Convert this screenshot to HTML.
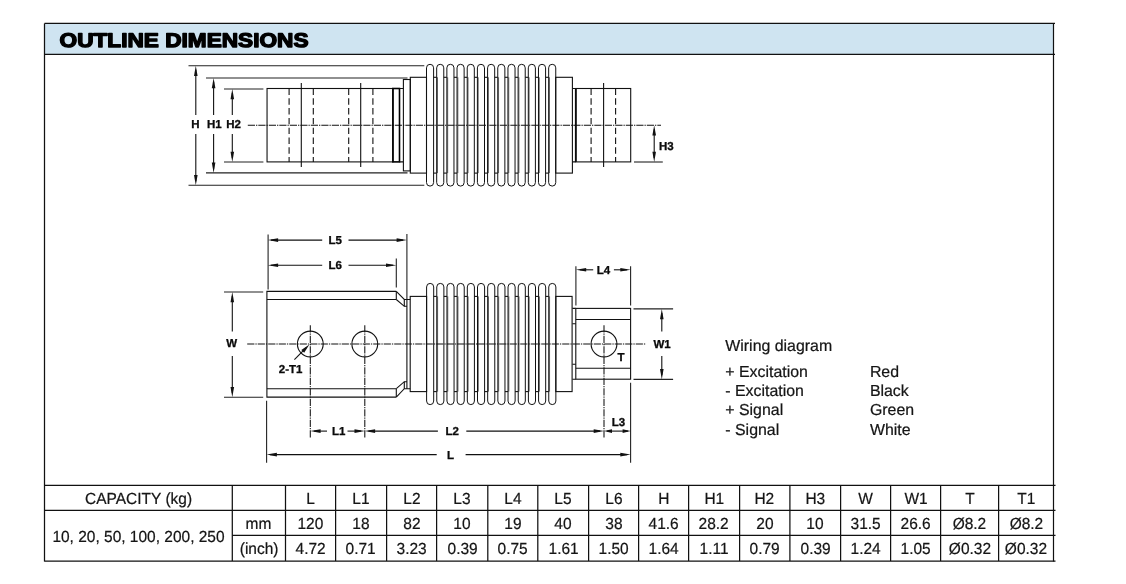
<!DOCTYPE html>
<html><head><meta charset="utf-8"><title>Outline Dimensions</title>
<style>
html,body{margin:0;padding:0;background:#fff}
body{text-rendering:geometricPrecision;width:1126px;height:584px;position:relative;overflow:hidden;font-family:"Liberation Sans",sans-serif;color:#111}
#page{position:absolute;left:0;top:0;width:1126px;height:584px;will-change:transform}
#hdr{position:absolute;left:44.5px;top:23.4px;width:1009.3px;height:30.9px;background:#cfe4f1}
.l{position:absolute;background:#161616}
.c{position:absolute;-webkit-text-stroke:0.22px #151515;text-align:center;font-size:16.1px;white-space:nowrap;color:#151515}
.c span{display:inline-block;transform:scaleX(0.962)}
svg{position:absolute;left:0;top:0}
svg text{font-family:"Liberation Sans",sans-serif}
.w{position:absolute;-webkit-text-stroke:0.22px #151515;font-size:15.9px;white-space:nowrap;color:#151515;line-height:18px}
</style></head><body><div id="page">
<div id="hdr"></div>
<svg width="1126" height="584" viewBox="0 0 1126 584">
<text x="59.6" y="46.9" font-size="19.9" font-weight="bold" fill="#000" stroke="#000" stroke-width="1.35" stroke-linejoin="round" textLength="248.9" lengthAdjust="spacingAndGlyphs">OUTLINE DIMENSIONS</text>
<line x1="188.50" y1="65.70" x2="424.30" y2="65.70" stroke="#222" stroke-width="1.1"/>
<line x1="188.50" y1="185.20" x2="424.30" y2="185.20" stroke="#222" stroke-width="1.1"/>
<line x1="206.00" y1="78.00" x2="407.50" y2="78.00" stroke="#222" stroke-width="1.1"/>
<line x1="206.00" y1="172.90" x2="407.50" y2="172.90" stroke="#222" stroke-width="1.1"/>
<line x1="224.00" y1="89.00" x2="263.40" y2="89.00" stroke="#222" stroke-width="1.1"/>
<line x1="224.00" y1="162.00" x2="263.40" y2="162.00" stroke="#222" stroke-width="1.1"/>
<line x1="195.80" y1="69.70" x2="195.80" y2="115.00" stroke="#111" stroke-width="1.1"/>
<line x1="195.80" y1="134.00" x2="195.80" y2="181.20" stroke="#111" stroke-width="1.1"/>
<polygon points="195.80,65.70 197.60,76.00 194.00,76.00" fill="#111"/>
<polygon points="195.80,185.20 194.00,174.90 197.60,174.90" fill="#111"/>
<text x="195.40" y="127.80" font-size="11.5" font-weight="bold" text-anchor="middle" fill="#0a0a0a" stroke="#0a0a0a" stroke-width="0.3">H</text>
<line x1="213.60" y1="82.00" x2="213.60" y2="115.00" stroke="#111" stroke-width="1.1"/>
<line x1="213.60" y1="134.00" x2="213.60" y2="168.90" stroke="#111" stroke-width="1.1"/>
<polygon points="213.60,78.00 215.40,88.30 211.80,88.30" fill="#111"/>
<polygon points="213.60,172.90 211.80,162.60 215.40,162.60" fill="#111"/>
<text x="214.40" y="127.80" font-size="11.5" font-weight="bold" text-anchor="middle" fill="#0a0a0a" stroke="#0a0a0a" stroke-width="0.3">H1</text>
<line x1="232.30" y1="93.00" x2="232.30" y2="115.00" stroke="#111" stroke-width="1.1"/>
<line x1="232.30" y1="134.00" x2="232.30" y2="158.00" stroke="#111" stroke-width="1.1"/>
<polygon points="232.30,89.00 234.10,99.30 230.50,99.30" fill="#111"/>
<polygon points="232.30,162.00 230.50,151.70 234.10,151.70" fill="#111"/>
<text x="233.60" y="127.80" font-size="11.5" font-weight="bold" text-anchor="middle" fill="#0a0a0a" stroke="#0a0a0a" stroke-width="0.3">H2</text>
<line x1="247.80" y1="125.20" x2="661.00" y2="125.20" stroke="#111" stroke-width="1.05" stroke-dasharray="7.2 1 1.3 1"/>
<rect x="267.05" y="88.50" width="125.95" height="73.40" fill="none" stroke="#111" stroke-width="1.1"/>
<line x1="289.10" y1="88.50" x2="289.10" y2="161.90" stroke="#111" stroke-width="1.1" stroke-dasharray="6.4 3.4"/>
<line x1="313.30" y1="88.50" x2="313.30" y2="161.90" stroke="#111" stroke-width="1.1" stroke-dasharray="6.4 3.4"/>
<line x1="348.70" y1="88.50" x2="348.70" y2="161.90" stroke="#111" stroke-width="1.1" stroke-dasharray="6.4 3.4"/>
<line x1="372.90" y1="88.50" x2="372.90" y2="161.90" stroke="#111" stroke-width="1.1" stroke-dasharray="6.4 3.4"/>
<line x1="301.30" y1="83.00" x2="301.30" y2="167.00" stroke="#111" stroke-width="1.1"/>
<line x1="360.70" y1="83.00" x2="360.70" y2="167.00" stroke="#111" stroke-width="1.1"/>
<rect x="392.90" y="88.50" width="6.60" height="73.40" fill="none" stroke="#000" stroke-width="1.6"/>
<path d="M399.5,88.5 L403.4,88.5 M399.5,161.9 L403.4,161.9" fill="none" stroke="#111" stroke-width="1.1" stroke-linejoin="miter"/>
<rect x="403.40" y="79.50" width="6.90" height="91.40" fill="none" stroke="#111" stroke-width="1.1"/>
<rect x="410.30" y="77.30" width="16.20" height="95.80" fill="none" stroke="#111" stroke-width="1.1"/>
<path d="M426.50,67.85 A3.55,3.55 0 0 1 433.60,67.85 L433.60,182.55 A3.55,3.55 0 0 1 426.50,182.55 Z" fill="none" stroke="#111" stroke-width="1" stroke-linejoin="miter"/>
<line x1="433.60" y1="77.30" x2="436.68" y2="77.30" stroke="#111" stroke-width="1.1"/>
<line x1="433.60" y1="173.10" x2="436.68" y2="173.10" stroke="#111" stroke-width="1.1"/>
<line x1="437.48" y1="77.30" x2="437.48" y2="173.10" stroke="#444" stroke-width="0.8"/>
<path d="M436.68,67.85 A3.55,3.55 0 0 1 443.78,67.85 L443.78,182.55 A3.55,3.55 0 0 1 436.68,182.55 Z" fill="none" stroke="#111" stroke-width="1" stroke-linejoin="miter"/>
<line x1="443.78" y1="77.30" x2="446.86" y2="77.30" stroke="#111" stroke-width="1.1"/>
<line x1="443.78" y1="173.10" x2="446.86" y2="173.10" stroke="#111" stroke-width="1.1"/>
<line x1="447.66" y1="77.30" x2="447.66" y2="173.10" stroke="#444" stroke-width="0.8"/>
<path d="M446.86,67.85 A3.55,3.55 0 0 1 453.96,67.85 L453.96,182.55 A3.55,3.55 0 0 1 446.86,182.55 Z" fill="none" stroke="#111" stroke-width="1" stroke-linejoin="miter"/>
<line x1="453.96" y1="77.30" x2="457.04" y2="77.30" stroke="#111" stroke-width="1.1"/>
<line x1="453.96" y1="173.10" x2="457.04" y2="173.10" stroke="#111" stroke-width="1.1"/>
<line x1="457.84" y1="77.30" x2="457.84" y2="173.10" stroke="#444" stroke-width="0.8"/>
<path d="M457.04,67.85 A3.55,3.55 0 0 1 464.14,67.85 L464.14,182.55 A3.55,3.55 0 0 1 457.04,182.55 Z" fill="none" stroke="#111" stroke-width="1" stroke-linejoin="miter"/>
<line x1="464.14" y1="77.30" x2="467.22" y2="77.30" stroke="#111" stroke-width="1.1"/>
<line x1="464.14" y1="173.10" x2="467.22" y2="173.10" stroke="#111" stroke-width="1.1"/>
<line x1="468.02" y1="77.30" x2="468.02" y2="173.10" stroke="#444" stroke-width="0.8"/>
<path d="M467.22,67.85 A3.55,3.55 0 0 1 474.32,67.85 L474.32,182.55 A3.55,3.55 0 0 1 467.22,182.55 Z" fill="none" stroke="#111" stroke-width="1" stroke-linejoin="miter"/>
<line x1="474.32" y1="77.30" x2="477.40" y2="77.30" stroke="#111" stroke-width="1.1"/>
<line x1="474.32" y1="173.10" x2="477.40" y2="173.10" stroke="#111" stroke-width="1.1"/>
<line x1="478.20" y1="77.30" x2="478.20" y2="173.10" stroke="#444" stroke-width="0.8"/>
<path d="M477.40,67.85 A3.55,3.55 0 0 1 484.50,67.85 L484.50,182.55 A3.55,3.55 0 0 1 477.40,182.55 Z" fill="none" stroke="#111" stroke-width="1" stroke-linejoin="miter"/>
<line x1="484.50" y1="77.30" x2="487.58" y2="77.30" stroke="#111" stroke-width="1.1"/>
<line x1="484.50" y1="173.10" x2="487.58" y2="173.10" stroke="#111" stroke-width="1.1"/>
<line x1="488.38" y1="77.30" x2="488.38" y2="173.10" stroke="#444" stroke-width="0.8"/>
<path d="M487.58,67.85 A3.55,3.55 0 0 1 494.68,67.85 L494.68,182.55 A3.55,3.55 0 0 1 487.58,182.55 Z" fill="none" stroke="#111" stroke-width="1" stroke-linejoin="miter"/>
<line x1="494.68" y1="77.30" x2="497.76" y2="77.30" stroke="#111" stroke-width="1.1"/>
<line x1="494.68" y1="173.10" x2="497.76" y2="173.10" stroke="#111" stroke-width="1.1"/>
<line x1="498.56" y1="77.30" x2="498.56" y2="173.10" stroke="#444" stroke-width="0.8"/>
<path d="M497.76,67.85 A3.55,3.55 0 0 1 504.86,67.85 L504.86,182.55 A3.55,3.55 0 0 1 497.76,182.55 Z" fill="none" stroke="#111" stroke-width="1" stroke-linejoin="miter"/>
<line x1="504.86" y1="77.30" x2="507.94" y2="77.30" stroke="#111" stroke-width="1.1"/>
<line x1="504.86" y1="173.10" x2="507.94" y2="173.10" stroke="#111" stroke-width="1.1"/>
<line x1="508.74" y1="77.30" x2="508.74" y2="173.10" stroke="#444" stroke-width="0.8"/>
<path d="M507.94,67.85 A3.55,3.55 0 0 1 515.04,67.85 L515.04,182.55 A3.55,3.55 0 0 1 507.94,182.55 Z" fill="none" stroke="#111" stroke-width="1" stroke-linejoin="miter"/>
<line x1="515.04" y1="77.30" x2="518.12" y2="77.30" stroke="#111" stroke-width="1.1"/>
<line x1="515.04" y1="173.10" x2="518.12" y2="173.10" stroke="#111" stroke-width="1.1"/>
<line x1="518.92" y1="77.30" x2="518.92" y2="173.10" stroke="#444" stroke-width="0.8"/>
<path d="M518.12,67.85 A3.55,3.55 0 0 1 525.22,67.85 L525.22,182.55 A3.55,3.55 0 0 1 518.12,182.55 Z" fill="none" stroke="#111" stroke-width="1" stroke-linejoin="miter"/>
<line x1="525.22" y1="77.30" x2="528.30" y2="77.30" stroke="#111" stroke-width="1.1"/>
<line x1="525.22" y1="173.10" x2="528.30" y2="173.10" stroke="#111" stroke-width="1.1"/>
<line x1="529.10" y1="77.30" x2="529.10" y2="173.10" stroke="#444" stroke-width="0.8"/>
<path d="M528.30,67.85 A3.55,3.55 0 0 1 535.40,67.85 L535.40,182.55 A3.55,3.55 0 0 1 528.30,182.55 Z" fill="none" stroke="#111" stroke-width="1" stroke-linejoin="miter"/>
<line x1="535.40" y1="77.30" x2="538.48" y2="77.30" stroke="#111" stroke-width="1.1"/>
<line x1="535.40" y1="173.10" x2="538.48" y2="173.10" stroke="#111" stroke-width="1.1"/>
<line x1="539.28" y1="77.30" x2="539.28" y2="173.10" stroke="#444" stroke-width="0.8"/>
<path d="M538.48,67.85 A3.55,3.55 0 0 1 545.58,67.85 L545.58,182.55 A3.55,3.55 0 0 1 538.48,182.55 Z" fill="none" stroke="#111" stroke-width="1" stroke-linejoin="miter"/>
<line x1="545.58" y1="77.30" x2="548.66" y2="77.30" stroke="#111" stroke-width="1.1"/>
<line x1="545.58" y1="173.10" x2="548.66" y2="173.10" stroke="#111" stroke-width="1.1"/>
<line x1="549.46" y1="77.30" x2="549.46" y2="173.10" stroke="#444" stroke-width="0.8"/>
<path d="M548.66,67.85 A3.55,3.55 0 0 1 555.76,67.85 L555.76,182.55 A3.55,3.55 0 0 1 548.66,182.55 Z" fill="none" stroke="#111" stroke-width="1" stroke-linejoin="miter"/>
<rect x="555.70" y="77.30" width="16.70" height="95.80" fill="none" stroke="#111" stroke-width="1.1"/>
<path d="M572.4,88.5 L575.8,88.5 M572.4,161.9 L575.8,161.9" fill="none" stroke="#111" stroke-width="1.1" stroke-linejoin="miter"/>
<line x1="575.80" y1="88.50" x2="575.80" y2="161.90" stroke="#000" stroke-width="1.8"/>
<rect x="575.80" y="88.50" width="54.90" height="73.40" fill="none" stroke="#111" stroke-width="1.1"/>
<line x1="591.10" y1="88.50" x2="591.10" y2="161.90" stroke="#111" stroke-width="1.1" stroke-dasharray="6.4 3.4"/>
<line x1="615.60" y1="88.50" x2="615.60" y2="161.90" stroke="#111" stroke-width="1.1" stroke-dasharray="6.4 3.4"/>
<line x1="603.60" y1="83.00" x2="603.60" y2="167.00" stroke="#111" stroke-width="1.1"/>
<line x1="634.00" y1="162.00" x2="662.80" y2="162.00" stroke="#222" stroke-width="1.1"/>
<line x1="654.20" y1="129.20" x2="654.20" y2="158.00" stroke="#111" stroke-width="1.1"/>
<polygon points="654.20,125.20 656.00,135.50 652.40,135.50" fill="#111"/>
<polygon points="654.20,162.00 652.40,151.70 656.00,151.70" fill="#111"/>
<text x="666.40" y="149.90" font-size="11.5" font-weight="bold" text-anchor="middle" fill="#0a0a0a" stroke="#0a0a0a" stroke-width="0.3">H3</text>
<path d="M396.3,291.4 L266.9,291.4 L266.9,397.1 L396.3,397.1" fill="none" stroke="#111" stroke-width="1.1" stroke-linejoin="miter"/>
<line x1="266.90" y1="299.50" x2="396.30" y2="299.50" stroke="#111" stroke-width="1.1"/>
<line x1="266.90" y1="388.70" x2="396.30" y2="388.70" stroke="#111" stroke-width="1.1"/>
<line x1="396.30" y1="291.40" x2="396.30" y2="299.50" stroke="#111" stroke-width="1.1"/>
<line x1="396.30" y1="388.70" x2="396.30" y2="397.10" stroke="#111" stroke-width="1.1"/>
<path d="M396.3,291.4 L404.3,299.5 L410.2,299.5" fill="none" stroke="#111" stroke-width="1.1" stroke-linejoin="miter"/>
<path d="M396.3,299.5 L404.3,306.3 L407,306.3" fill="none" stroke="#111" stroke-width="1.1" stroke-linejoin="miter"/>
<line x1="404.30" y1="299.50" x2="404.30" y2="306.30" stroke="#111" stroke-width="1.1"/>
<path d="M396.3,397.1 L404.3,388.7 L410.2,388.7" fill="none" stroke="#111" stroke-width="1.1" stroke-linejoin="miter"/>
<path d="M396.3,388.7 L404.3,381.70 L407,381.70" fill="none" stroke="#111" stroke-width="1.1" stroke-linejoin="miter"/>
<line x1="404.30" y1="388.70" x2="404.30" y2="381.70" stroke="#111" stroke-width="1.1"/>
<line x1="406.90" y1="299.50" x2="406.90" y2="388.70" stroke="#111" stroke-width="1.1"/>
<rect x="410.20" y="296.40" width="16.40" height="95.20" fill="none" stroke="#111" stroke-width="1.1"/>
<path d="M426.60,286.95 A3.55,3.55 0 0 1 433.70,286.95 L433.70,401.05 A3.55,3.55 0 0 1 426.60,401.05 Z" fill="none" stroke="#111" stroke-width="1" stroke-linejoin="miter"/>
<line x1="433.70" y1="296.40" x2="436.78" y2="296.40" stroke="#111" stroke-width="1.1"/>
<line x1="433.70" y1="391.60" x2="436.78" y2="391.60" stroke="#111" stroke-width="1.1"/>
<line x1="437.58" y1="296.40" x2="437.58" y2="391.60" stroke="#444" stroke-width="0.8"/>
<path d="M436.78,286.95 A3.55,3.55 0 0 1 443.88,286.95 L443.88,401.05 A3.55,3.55 0 0 1 436.78,401.05 Z" fill="none" stroke="#111" stroke-width="1" stroke-linejoin="miter"/>
<line x1="443.88" y1="296.40" x2="446.96" y2="296.40" stroke="#111" stroke-width="1.1"/>
<line x1="443.88" y1="391.60" x2="446.96" y2="391.60" stroke="#111" stroke-width="1.1"/>
<line x1="447.76" y1="296.40" x2="447.76" y2="391.60" stroke="#444" stroke-width="0.8"/>
<path d="M446.96,286.95 A3.55,3.55 0 0 1 454.06,286.95 L454.06,401.05 A3.55,3.55 0 0 1 446.96,401.05 Z" fill="none" stroke="#111" stroke-width="1" stroke-linejoin="miter"/>
<line x1="454.06" y1="296.40" x2="457.14" y2="296.40" stroke="#111" stroke-width="1.1"/>
<line x1="454.06" y1="391.60" x2="457.14" y2="391.60" stroke="#111" stroke-width="1.1"/>
<line x1="457.94" y1="296.40" x2="457.94" y2="391.60" stroke="#444" stroke-width="0.8"/>
<path d="M457.14,286.95 A3.55,3.55 0 0 1 464.24,286.95 L464.24,401.05 A3.55,3.55 0 0 1 457.14,401.05 Z" fill="none" stroke="#111" stroke-width="1" stroke-linejoin="miter"/>
<line x1="464.24" y1="296.40" x2="467.32" y2="296.40" stroke="#111" stroke-width="1.1"/>
<line x1="464.24" y1="391.60" x2="467.32" y2="391.60" stroke="#111" stroke-width="1.1"/>
<line x1="468.12" y1="296.40" x2="468.12" y2="391.60" stroke="#444" stroke-width="0.8"/>
<path d="M467.32,286.95 A3.55,3.55 0 0 1 474.42,286.95 L474.42,401.05 A3.55,3.55 0 0 1 467.32,401.05 Z" fill="none" stroke="#111" stroke-width="1" stroke-linejoin="miter"/>
<line x1="474.42" y1="296.40" x2="477.50" y2="296.40" stroke="#111" stroke-width="1.1"/>
<line x1="474.42" y1="391.60" x2="477.50" y2="391.60" stroke="#111" stroke-width="1.1"/>
<line x1="478.30" y1="296.40" x2="478.30" y2="391.60" stroke="#444" stroke-width="0.8"/>
<path d="M477.50,286.95 A3.55,3.55 0 0 1 484.60,286.95 L484.60,401.05 A3.55,3.55 0 0 1 477.50,401.05 Z" fill="none" stroke="#111" stroke-width="1" stroke-linejoin="miter"/>
<line x1="484.60" y1="296.40" x2="487.68" y2="296.40" stroke="#111" stroke-width="1.1"/>
<line x1="484.60" y1="391.60" x2="487.68" y2="391.60" stroke="#111" stroke-width="1.1"/>
<line x1="488.48" y1="296.40" x2="488.48" y2="391.60" stroke="#444" stroke-width="0.8"/>
<path d="M487.68,286.95 A3.55,3.55 0 0 1 494.78,286.95 L494.78,401.05 A3.55,3.55 0 0 1 487.68,401.05 Z" fill="none" stroke="#111" stroke-width="1" stroke-linejoin="miter"/>
<line x1="494.78" y1="296.40" x2="497.86" y2="296.40" stroke="#111" stroke-width="1.1"/>
<line x1="494.78" y1="391.60" x2="497.86" y2="391.60" stroke="#111" stroke-width="1.1"/>
<line x1="498.66" y1="296.40" x2="498.66" y2="391.60" stroke="#444" stroke-width="0.8"/>
<path d="M497.86,286.95 A3.55,3.55 0 0 1 504.96,286.95 L504.96,401.05 A3.55,3.55 0 0 1 497.86,401.05 Z" fill="none" stroke="#111" stroke-width="1" stroke-linejoin="miter"/>
<line x1="504.96" y1="296.40" x2="508.04" y2="296.40" stroke="#111" stroke-width="1.1"/>
<line x1="504.96" y1="391.60" x2="508.04" y2="391.60" stroke="#111" stroke-width="1.1"/>
<line x1="508.84" y1="296.40" x2="508.84" y2="391.60" stroke="#444" stroke-width="0.8"/>
<path d="M508.04,286.95 A3.55,3.55 0 0 1 515.14,286.95 L515.14,401.05 A3.55,3.55 0 0 1 508.04,401.05 Z" fill="none" stroke="#111" stroke-width="1" stroke-linejoin="miter"/>
<line x1="515.14" y1="296.40" x2="518.22" y2="296.40" stroke="#111" stroke-width="1.1"/>
<line x1="515.14" y1="391.60" x2="518.22" y2="391.60" stroke="#111" stroke-width="1.1"/>
<line x1="519.02" y1="296.40" x2="519.02" y2="391.60" stroke="#444" stroke-width="0.8"/>
<path d="M518.22,286.95 A3.55,3.55 0 0 1 525.32,286.95 L525.32,401.05 A3.55,3.55 0 0 1 518.22,401.05 Z" fill="none" stroke="#111" stroke-width="1" stroke-linejoin="miter"/>
<line x1="525.32" y1="296.40" x2="528.40" y2="296.40" stroke="#111" stroke-width="1.1"/>
<line x1="525.32" y1="391.60" x2="528.40" y2="391.60" stroke="#111" stroke-width="1.1"/>
<line x1="529.20" y1="296.40" x2="529.20" y2="391.60" stroke="#444" stroke-width="0.8"/>
<path d="M528.40,286.95 A3.55,3.55 0 0 1 535.50,286.95 L535.50,401.05 A3.55,3.55 0 0 1 528.40,401.05 Z" fill="none" stroke="#111" stroke-width="1" stroke-linejoin="miter"/>
<line x1="535.50" y1="296.40" x2="538.58" y2="296.40" stroke="#111" stroke-width="1.1"/>
<line x1="535.50" y1="391.60" x2="538.58" y2="391.60" stroke="#111" stroke-width="1.1"/>
<line x1="539.38" y1="296.40" x2="539.38" y2="391.60" stroke="#444" stroke-width="0.8"/>
<path d="M538.58,286.95 A3.55,3.55 0 0 1 545.68,286.95 L545.68,401.05 A3.55,3.55 0 0 1 538.58,401.05 Z" fill="none" stroke="#111" stroke-width="1" stroke-linejoin="miter"/>
<line x1="545.68" y1="296.40" x2="548.76" y2="296.40" stroke="#111" stroke-width="1.1"/>
<line x1="545.68" y1="391.60" x2="548.76" y2="391.60" stroke="#111" stroke-width="1.1"/>
<line x1="549.56" y1="296.40" x2="549.56" y2="391.60" stroke="#444" stroke-width="0.8"/>
<path d="M548.76,286.95 A3.55,3.55 0 0 1 555.86,286.95 L555.86,401.05 A3.55,3.55 0 0 1 548.76,401.05 Z" fill="none" stroke="#111" stroke-width="1" stroke-linejoin="miter"/>
<rect x="555.80" y="296.40" width="16.30" height="95.20" fill="none" stroke="#111" stroke-width="1.1"/>
<rect x="575.80" y="308.40" width="54.80" height="70.80" fill="none" stroke="#111" stroke-width="1.1"/>
<line x1="575.80" y1="319.50" x2="630.60" y2="319.50" stroke="#111" stroke-width="1.1"/>
<line x1="575.80" y1="368.30" x2="630.60" y2="368.30" stroke="#111" stroke-width="1.1"/>
<path d="M572.4,308.4 L575.8,308.4 M572.4,379.2 L575.8,379.2 M572.4,323.8 L575.8,323.8 M572.4,364.2 L575.8,364.2" fill="none" stroke="#111" stroke-width="1.1" stroke-linejoin="miter"/>
<line x1="247.20" y1="344.00" x2="646.20" y2="344.00" stroke="#111" stroke-width="1.05" stroke-dasharray="7.2 1 1.3 1"/>
<circle cx="310.3" cy="344.0" r="12.9" fill="none" stroke="#111" stroke-width="1.1"/>
<line x1="310.30" y1="325.20" x2="310.30" y2="437.60" stroke="#111" stroke-width="1.05" stroke-dasharray="7.2 1 1.3 1"/>
<circle cx="364.8" cy="344.0" r="12.9" fill="none" stroke="#111" stroke-width="1.1"/>
<line x1="364.80" y1="325.20" x2="364.80" y2="437.60" stroke="#111" stroke-width="1.05" stroke-dasharray="7.2 1 1.3 1"/>
<circle cx="604.0" cy="344.0" r="12.9" fill="none" stroke="#111" stroke-width="1.1"/>
<line x1="604.00" y1="325.20" x2="604.00" y2="437.60" stroke="#111" stroke-width="1.05" stroke-dasharray="7.2 1 1.3 1"/>
<line x1="294.40" y1="359.70" x2="306.50" y2="347.40" stroke="#111" stroke-width="1.1"/>
<polygon points="309.40,344.60 304.17,352.75 301.33,349.95" fill="#111"/>
<text x="290.60" y="372.80" font-size="11.5" font-weight="bold" text-anchor="middle" fill="#0a0a0a" stroke="#0a0a0a" stroke-width="0.3">2-T1</text>
<text x="621.00" y="361.00" font-size="11.5" font-weight="bold" text-anchor="middle" fill="#0a0a0a" stroke="#0a0a0a" stroke-width="0.3">T</text>
<line x1="224.00" y1="292.00" x2="263.20" y2="292.00" stroke="#222" stroke-width="1.1"/>
<line x1="224.00" y1="397.20" x2="263.20" y2="397.20" stroke="#222" stroke-width="1.1"/>
<line x1="232.30" y1="296.00" x2="232.30" y2="331.50" stroke="#111" stroke-width="1.1"/>
<line x1="232.30" y1="356.00" x2="232.30" y2="393.00" stroke="#111" stroke-width="1.1"/>
<polygon points="232.30,292.00 234.10,302.30 230.50,302.30" fill="#111"/>
<polygon points="232.30,397.20 230.50,386.90 234.10,386.90" fill="#111"/>
<text x="231.60" y="346.60" font-size="11.5" font-weight="bold" text-anchor="middle" fill="#0a0a0a" stroke="#0a0a0a" stroke-width="0.3">W</text>
<line x1="633.50" y1="308.90" x2="673.10" y2="308.90" stroke="#222" stroke-width="1.1"/>
<line x1="633.50" y1="379.40" x2="673.10" y2="379.40" stroke="#222" stroke-width="1.1"/>
<line x1="661.80" y1="313.00" x2="661.80" y2="331.50" stroke="#111" stroke-width="1.1"/>
<line x1="661.80" y1="356.00" x2="661.80" y2="375.00" stroke="#111" stroke-width="1.1"/>
<polygon points="661.80,308.90 663.60,319.20 660.00,319.20" fill="#111"/>
<polygon points="661.80,379.40 660.00,369.10 663.60,369.10" fill="#111"/>
<text x="662.10" y="347.60" font-size="11.5" font-weight="bold" text-anchor="middle" fill="#0a0a0a" stroke="#0a0a0a" stroke-width="0.3">W1</text>
<line x1="268.10" y1="234.50" x2="268.10" y2="289.60" stroke="#222" stroke-width="1.1"/>
<line x1="406.90" y1="234.10" x2="406.90" y2="299.50" stroke="#222" stroke-width="1.1"/>
<line x1="396.30" y1="258.60" x2="396.30" y2="287.60" stroke="#222" stroke-width="1.1"/>
<line x1="271.00" y1="240.10" x2="322.20" y2="240.10" stroke="#111" stroke-width="1.1"/>
<line x1="348.50" y1="240.10" x2="403.00" y2="240.10" stroke="#111" stroke-width="1.1"/>
<polygon points="267.80,240.10 278.10,238.30 278.10,241.90" fill="#111"/>
<polygon points="406.90,240.10 396.60,241.90 396.60,238.30" fill="#111"/>
<text x="335.10" y="244.20" font-size="11.5" font-weight="bold" text-anchor="middle" fill="#0a0a0a" stroke="#0a0a0a" stroke-width="0.3">L5</text>
<line x1="271.00" y1="265.30" x2="322.20" y2="265.30" stroke="#111" stroke-width="1.1"/>
<line x1="348.50" y1="265.30" x2="393.00" y2="265.30" stroke="#111" stroke-width="1.1"/>
<polygon points="267.80,265.30 278.10,263.50 278.10,267.10" fill="#111"/>
<polygon points="396.30,265.30 386.00,267.10 386.00,263.50" fill="#111"/>
<text x="335.10" y="269.40" font-size="11.5" font-weight="bold" text-anchor="middle" fill="#0a0a0a" stroke="#0a0a0a" stroke-width="0.3">L6</text>
<line x1="575.90" y1="266.20" x2="575.90" y2="305.60" stroke="#222" stroke-width="1.1"/>
<line x1="630.60" y1="266.20" x2="630.60" y2="305.60" stroke="#222" stroke-width="1.1"/>
<line x1="580.00" y1="269.80" x2="593.20" y2="269.80" stroke="#111" stroke-width="1.1"/>
<line x1="613.90" y1="269.80" x2="627.00" y2="269.80" stroke="#111" stroke-width="1.1"/>
<polygon points="575.90,269.80 586.20,268.00 586.20,271.60" fill="#111"/>
<polygon points="630.60,269.80 620.30,271.60 620.30,268.00" fill="#111"/>
<text x="603.50" y="274.00" font-size="11.5" font-weight="bold" text-anchor="middle" fill="#0a0a0a" stroke="#0a0a0a" stroke-width="0.3">L4</text>
<line x1="266.60" y1="400.70" x2="266.60" y2="462.80" stroke="#222" stroke-width="1.1"/>
<line x1="630.60" y1="382.70" x2="630.60" y2="462.80" stroke="#222" stroke-width="1.1"/>
<line x1="314.00" y1="431.10" x2="327.00" y2="431.10" stroke="#111" stroke-width="1.1"/>
<line x1="347.50" y1="431.10" x2="361.00" y2="431.10" stroke="#111" stroke-width="1.1"/>
<polygon points="310.30,431.10 320.60,429.30 320.60,432.90" fill="#111"/>
<polygon points="364.80,431.10 354.50,432.90 354.50,429.30" fill="#111"/>
<text x="338.60" y="435.20" font-size="11.5" font-weight="bold" text-anchor="middle" fill="#0a0a0a" stroke="#0a0a0a" stroke-width="0.3">L1</text>
<line x1="368.50" y1="431.10" x2="437.90" y2="431.10" stroke="#111" stroke-width="1.1"/>
<line x1="466.30" y1="431.10" x2="600.00" y2="431.10" stroke="#111" stroke-width="1.1"/>
<polygon points="364.80,431.10 375.10,429.30 375.10,432.90" fill="#111"/>
<polygon points="604.00,431.10 593.70,432.90 593.70,429.30" fill="#111"/>
<text x="452.20" y="435.20" font-size="11.5" font-weight="bold" text-anchor="middle" fill="#0a0a0a" stroke="#0a0a0a" stroke-width="0.3">L2</text>
<line x1="607.00" y1="431.10" x2="628.00" y2="431.10" stroke="#111" stroke-width="1.1"/>
<polygon points="604.00,431.10 612.00,429.30 612.00,432.90" fill="#111"/>
<polygon points="630.60,431.10 622.60,432.90 622.60,429.30" fill="#111"/>
<text x="618.50" y="426.40" font-size="11.5" font-weight="bold" text-anchor="middle" fill="#0a0a0a" stroke="#0a0a0a" stroke-width="0.3">L3</text>
<line x1="270.00" y1="454.60" x2="436.70" y2="454.60" stroke="#111" stroke-width="1.1"/>
<line x1="465.60" y1="454.60" x2="627.00" y2="454.60" stroke="#111" stroke-width="1.1"/>
<polygon points="266.60,454.60 276.90,452.80 276.90,456.40" fill="#111"/>
<polygon points="630.60,454.60 620.30,456.40 620.30,452.80" fill="#111"/>
<text x="450.50" y="458.70" font-size="11.5" font-weight="bold" text-anchor="middle" fill="#0a0a0a" stroke="#0a0a0a" stroke-width="0.3">L</text>
<line x1="44.50" y1="23.40" x2="1055.00" y2="23.40" stroke="#111" stroke-width="1.25"/>
<line x1="44.50" y1="54.30" x2="1055.00" y2="54.30" stroke="#111" stroke-width="1.25"/>
<line x1="44.50" y1="23.40" x2="44.50" y2="561.60" stroke="#111" stroke-width="1.25"/>
<line x1="1053.50" y1="23.40" x2="1053.50" y2="561.60" stroke="#111" stroke-width="1.2"/>
<line x1="44.50" y1="485.40" x2="1055.50" y2="485.40" stroke="#111" stroke-width="1.25"/>
<line x1="232.30" y1="535.40" x2="1055.50" y2="535.40" stroke="#111" stroke-width="1.25"/>
<line x1="44.50" y1="510.30" x2="1055.50" y2="510.30" stroke="#111" stroke-width="1.25"/>
<line x1="44.50" y1="561.00" x2="1055.50" y2="561.00" stroke="#111" stroke-width="1.25"/>
<line x1="232.30" y1="485.40" x2="232.30" y2="561.00" stroke="#111" stroke-width="1.25"/>
<line x1="285.50" y1="485.40" x2="285.50" y2="561.00" stroke="#111" stroke-width="1.25"/>
<line x1="335.60" y1="485.40" x2="335.60" y2="561.00" stroke="#111" stroke-width="1.25"/>
<line x1="386.60" y1="485.40" x2="386.60" y2="561.00" stroke="#111" stroke-width="1.25"/>
<line x1="436.60" y1="485.40" x2="436.60" y2="561.00" stroke="#111" stroke-width="1.25"/>
<line x1="487.80" y1="485.40" x2="487.80" y2="561.00" stroke="#111" stroke-width="1.25"/>
<line x1="537.80" y1="485.40" x2="537.80" y2="561.00" stroke="#111" stroke-width="1.25"/>
<line x1="588.60" y1="485.40" x2="588.60" y2="561.00" stroke="#111" stroke-width="1.25"/>
<line x1="638.60" y1="485.40" x2="638.60" y2="561.00" stroke="#111" stroke-width="1.25"/>
<line x1="688.60" y1="485.40" x2="688.60" y2="561.00" stroke="#111" stroke-width="1.25"/>
<line x1="739.60" y1="485.40" x2="739.60" y2="561.00" stroke="#111" stroke-width="1.25"/>
<line x1="789.90" y1="485.40" x2="789.90" y2="561.00" stroke="#111" stroke-width="1.25"/>
<line x1="840.60" y1="485.40" x2="840.60" y2="561.00" stroke="#111" stroke-width="1.25"/>
<line x1="890.60" y1="485.40" x2="890.60" y2="561.00" stroke="#111" stroke-width="1.25"/>
<line x1="940.60" y1="485.40" x2="940.60" y2="561.00" stroke="#111" stroke-width="1.25"/>
<line x1="998.60" y1="485.40" x2="998.60" y2="561.00" stroke="#111" stroke-width="1.25"/>
</svg>
<div class="w" style="left:725.3px;top:338.0px">Wiring diagram</div>
<div class="w" style="left:725.3px;top:364.1px">+ Excitation</div>
<div class="w" style="left:725.3px;top:383.1px">- Excitation</div>
<div class="w" style="left:725.3px;top:402.2px">+ Signal</div>
<div class="w" style="left:725.3px;top:421.9px">- Signal</div>
<div class="w" style="left:869.9px;top:364.1px">Red</div>
<div class="w" style="left:869.9px;top:383.1px">Black</div>
<div class="w" style="left:869.9px;top:402.2px">Green</div>
<div class="w" style="left:869.9px;top:421.9px">White</div>
<div class="c" style="left:44.5px;top:485.4px;width:187.8px;height:24.9px;line-height:28.5px"><span>CAPACITY (kg)</span></div>
<div class="c" style="left:44.5px;top:510.3px;width:187.8px;height:50.7px;line-height:54.3px"><span>10, 20, 50, 100, 200, 250</span></div>
<div class="c" style="left:232.3px;top:510.3px;width:53.2px;height:25.1px;line-height:28.7px"><span>mm</span></div>
<div class="c" style="left:232.3px;top:535.4px;width:53.2px;height:25.6px;line-height:29.2px"><span>(inch)</span></div>
<div class="c" style="left:285.5px;top:485.4px;width:50.1px;height:24.9px;line-height:28.5px"><span>L</span></div>
<div class="c" style="left:285.5px;top:510.3px;width:50.1px;height:25.1px;line-height:28.7px"><span>120</span></div>
<div class="c" style="left:285.5px;top:535.4px;width:50.1px;height:25.6px;line-height:29.2px"><span>4.72</span></div>
<div class="c" style="left:335.6px;top:485.4px;width:51.0px;height:24.9px;line-height:28.5px"><span>L1</span></div>
<div class="c" style="left:335.6px;top:510.3px;width:51.0px;height:25.1px;line-height:28.7px"><span>18</span></div>
<div class="c" style="left:335.6px;top:535.4px;width:51.0px;height:25.6px;line-height:29.2px"><span>0.71</span></div>
<div class="c" style="left:386.6px;top:485.4px;width:50.0px;height:24.9px;line-height:28.5px"><span>L2</span></div>
<div class="c" style="left:386.6px;top:510.3px;width:50.0px;height:25.1px;line-height:28.7px"><span>82</span></div>
<div class="c" style="left:386.6px;top:535.4px;width:50.0px;height:25.6px;line-height:29.2px"><span>3.23</span></div>
<div class="c" style="left:436.6px;top:485.4px;width:51.2px;height:24.9px;line-height:28.5px"><span>L3</span></div>
<div class="c" style="left:436.6px;top:510.3px;width:51.2px;height:25.1px;line-height:28.7px"><span>10</span></div>
<div class="c" style="left:436.6px;top:535.4px;width:51.2px;height:25.6px;line-height:29.2px"><span>0.39</span></div>
<div class="c" style="left:487.8px;top:485.4px;width:50.0px;height:24.9px;line-height:28.5px"><span>L4</span></div>
<div class="c" style="left:487.8px;top:510.3px;width:50.0px;height:25.1px;line-height:28.7px"><span>19</span></div>
<div class="c" style="left:487.8px;top:535.4px;width:50.0px;height:25.6px;line-height:29.2px"><span>0.75</span></div>
<div class="c" style="left:537.8px;top:485.4px;width:50.8px;height:24.9px;line-height:28.5px"><span>L5</span></div>
<div class="c" style="left:537.8px;top:510.3px;width:50.8px;height:25.1px;line-height:28.7px"><span>40</span></div>
<div class="c" style="left:537.8px;top:535.4px;width:50.8px;height:25.6px;line-height:29.2px"><span>1.61</span></div>
<div class="c" style="left:588.6px;top:485.4px;width:50.0px;height:24.9px;line-height:28.5px"><span>L6</span></div>
<div class="c" style="left:588.6px;top:510.3px;width:50.0px;height:25.1px;line-height:28.7px"><span>38</span></div>
<div class="c" style="left:588.6px;top:535.4px;width:50.0px;height:25.6px;line-height:29.2px"><span>1.50</span></div>
<div class="c" style="left:638.6px;top:485.4px;width:50.0px;height:24.9px;line-height:28.5px"><span>H</span></div>
<div class="c" style="left:638.6px;top:510.3px;width:50.0px;height:25.1px;line-height:28.7px"><span>41.6</span></div>
<div class="c" style="left:638.6px;top:535.4px;width:50.0px;height:25.6px;line-height:29.2px"><span>1.64</span></div>
<div class="c" style="left:688.6px;top:485.4px;width:51.0px;height:24.9px;line-height:28.5px"><span>H1</span></div>
<div class="c" style="left:688.6px;top:510.3px;width:51.0px;height:25.1px;line-height:28.7px"><span>28.2</span></div>
<div class="c" style="left:688.6px;top:535.4px;width:51.0px;height:25.6px;line-height:29.2px"><span>1.11</span></div>
<div class="c" style="left:739.6px;top:485.4px;width:50.3px;height:24.9px;line-height:28.5px"><span>H2</span></div>
<div class="c" style="left:739.6px;top:510.3px;width:50.3px;height:25.1px;line-height:28.7px"><span>20</span></div>
<div class="c" style="left:739.6px;top:535.4px;width:50.3px;height:25.6px;line-height:29.2px"><span>0.79</span></div>
<div class="c" style="left:789.9px;top:485.4px;width:50.7px;height:24.9px;line-height:28.5px"><span>H3</span></div>
<div class="c" style="left:789.9px;top:510.3px;width:50.7px;height:25.1px;line-height:28.7px"><span>10</span></div>
<div class="c" style="left:789.9px;top:535.4px;width:50.7px;height:25.6px;line-height:29.2px"><span>0.39</span></div>
<div class="c" style="left:840.6px;top:485.4px;width:50.0px;height:24.9px;line-height:28.5px"><span>W</span></div>
<div class="c" style="left:840.6px;top:510.3px;width:50.0px;height:25.1px;line-height:28.7px"><span>31.5</span></div>
<div class="c" style="left:840.6px;top:535.4px;width:50.0px;height:25.6px;line-height:29.2px"><span>1.24</span></div>
<div class="c" style="left:890.6px;top:485.4px;width:50.0px;height:24.9px;line-height:28.5px"><span>W1</span></div>
<div class="c" style="left:890.6px;top:510.3px;width:50.0px;height:25.1px;line-height:28.7px"><span>26.6</span></div>
<div class="c" style="left:890.6px;top:535.4px;width:50.0px;height:25.6px;line-height:29.2px"><span>1.05</span></div>
<div class="c" style="left:940.6px;top:485.4px;width:58.0px;height:24.9px;line-height:28.5px"><span>T</span></div>
<div class="c" style="left:940.6px;top:510.3px;width:58.0px;height:25.1px;line-height:28.7px"><span>Ø8.2</span></div>
<div class="c" style="left:940.6px;top:535.4px;width:58.0px;height:25.6px;line-height:29.2px"><span>Ø0.32</span></div>
<div class="c" style="left:998.6px;top:485.4px;width:55.2px;height:24.9px;line-height:28.5px"><span>T1</span></div>
<div class="c" style="left:998.6px;top:510.3px;width:55.2px;height:25.1px;line-height:28.7px"><span>Ø8.2</span></div>
<div class="c" style="left:998.6px;top:535.4px;width:55.2px;height:25.6px;line-height:29.2px"><span>Ø0.32</span></div>
</div></body></html>
